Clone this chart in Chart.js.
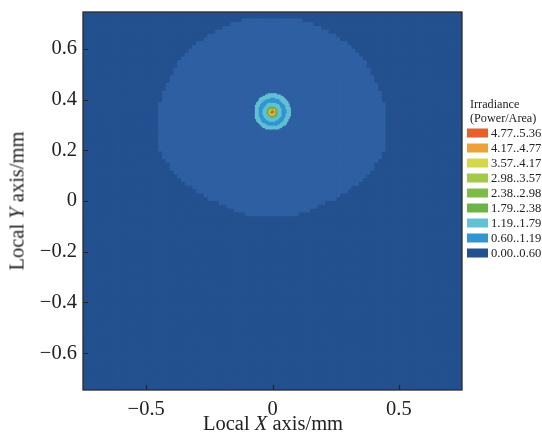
<!DOCTYPE html>
<html>
<head>
<meta charset="utf-8">
<script src="https://cdn.jsdelivr.net/npm/chart.js@4/dist/chart.umd.min.js"></script>
<style>
  html, body { margin: 0; padding: 0; background: #fff; }
  #wrap { position: relative; width: 542px; height: 441px; font-family: "Liberation Serif", "DejaVu Serif", serif; color: #222; }
  #chart { position: absolute; left: 0; top: 0; }
  .ttl { position: absolute; font-size: 20.5px; white-space: nowrap; }
  #ytitle { left: 17px; top: 201px; transform: translate(-50%, -50%) rotate(-90deg); }
  #xtitle { left: 273px; top: 423px; transform: translate(-50%, -50%); }
  .leg { position: absolute; white-space: nowrap; }
  .leg-title { left: 470px; font-size: 12.2px; transform: translateY(-50%); }
  .leg-item { left: 467px; font-size: 12.6px; transform: translateY(-50%); display: flex; align-items: center; }
  .sw { width: 21px; height: 9px; margin-right: 3px; }
</style>
</head>
<body>
<div id="wrap">
  <canvas id="chart" width="542" height="441"></canvas>
  <div class="ttl" id="ytitle">Local <i>Y</i> axis/mm</div>
  <div class="ttl" id="xtitle">Local <i>X</i> axis/mm</div>
  <div id="legend"></div>
</div>
<script>
// ===== DATA =====
const xTicks = [-0.5, 0, 0.5];
const yTicks = [-0.6, -0.4, -0.2, 0, 0.2, 0.4, 0.6];
const xRange = [-0.75, 0.75];
const yRange = [-0.745, 0.745];

// legend bands, top to bottom
const bandLabels = ['4.77..5.36', '4.17..4.77', '3.57..4.17', '2.98..3.57', '2.38..2.98',
                    '1.79..2.38', '1.19..1.79', '0.60..1.19', '0.00..0.60'];
const bandLower = [4.77, 4.17, 3.57, 2.98, 2.38, 1.79, 1.19, 0.60, 0.00];
const bandColors = ['#e4602f', '#eca238', '#d3d84a', '#a2c94c', '#7fbb47',
                    '#6cb448', '#62c1d2', '#3295d2', '#23508f'];
const haloColor = '#2f5fa3';

// background level and the wide halo (lighter part of the lowest band)
const backgroundValue = 0.10;
const haloValue = 0.40;
// halo outline: row y (mm) and half width (mm), top to bottom
const haloRowY =     [0.722, 0.705, 0.681, 0.630, 0.563, 0.496, 0.433, 0.366, 0.228, 0.189, 0.122, 0.071, 0.016, -0.024, -0.055, -0.063];
const haloHalfWidth = [0.090, 0.150, 0.210, 0.290, 0.361, 0.400, 0.433, 0.452, 0.452, 0.437, 0.397, 0.341, 0.262, 0.171, 0.091, 0.060];

// hot spot: centre and radial bands (outer radius mm -> value)
const spotCenter = [0.0, 0.352];
const spotRadius = [0.071, 0.055, 0.038, 0.022, 0.013, 0.010, 0.007];
const spotValue  = [1.30, 0.90, 1.50, 2.10, 3.80, 4.40, 5.00];

const coarseCell = 0.015;
const fineCell = 0.005;

// ===== helpers =====
function haloWidthAt(y) {
  if (y > haloRowY[0] || y < haloRowY[haloRowY.length - 1]) return -1;
  for (let i = 0; i < haloRowY.length - 1; i++) {
    const a = haloRowY[i], b = haloRowY[i + 1];
    if (y <= a && y >= b) {
      const t = (a - y) / (a - b);
      return haloHalfWidth[i] + t * (haloHalfWidth[i + 1] - haloHalfWidth[i]);
    }
  }
  return -1;
}

function spotAt(x, y) {
  const r = Math.hypot(x - spotCenter[0], y - spotCenter[1]);
  let v = null;
  for (let i = 0; i < spotRadius.length; i++) {
    if (r <= spotRadius[i]) v = spotValue[i];
  }
  return v;
}

function colorFor(v) {
  if (v < bandLower[7]) return v >= 0.3 ? haloColor : bandColors[8];
  for (let i = 0; i < bandLower.length; i++) {
    if (v >= bandLower[i]) return bandColors[i];
  }
  return bandColors[8];
}

// coarse grid over the whole plot
const coarseCells = [];
for (let y = yRange[0] + coarseCell / 2 - 0.0025; y < yRange[1] + coarseCell; y += coarseCell) {
  for (let x = xRange[0] + coarseCell / 2; x < xRange[1]; x += coarseCell) {
    const hw = haloWidthAt(y);
    const v = (hw >= 0 && Math.abs(x) <= hw) ? haloValue : backgroundValue;
    coarseCells.push({ x, y, v });
  }
}

// fine grid around the hot spot
const spotCells = [];
const reach = spotRadius[0] + fineCell;
for (let y = spotCenter[1] - reach; y <= spotCenter[1] + reach; y += fineCell) {
  for (let x = spotCenter[0] - reach; x <= spotCenter[0] + reach; x += fineCell) {
    const v = spotAt(x, y);
    if (v !== null) spotCells.push({ x, y, v });
  }
}

function cellRadius(size, overlap) {
  return (ctx) => {
    const sx = ctx.chart.scales.x;
    const w = Math.abs(sx.getPixelForValue(size) - sx.getPixelForValue(0));
    return (w + overlap) / Math.SQRT2;
  };
}

// ===== legend (HTML) =====
const legend = document.getElementById('legend');
['Irradiance', '(Power/Area)'].forEach((t, i) => {
  const d = document.createElement('div');
  d.className = 'leg leg-title';
  d.style.top = (104 + i * 13.5) + 'px';
  d.textContent = t;
  legend.appendChild(d);
});
bandLabels.forEach((lab, i) => {
  const d = document.createElement('div');
  d.className = 'leg leg-item';
  d.style.top = (133 + i * 15) + 'px';
  const sw = document.createElement('span');
  sw.className = 'sw';
  sw.style.background = bandColors[i];
  d.appendChild(sw);
  d.appendChild(document.createTextNode(lab));
  legend.appendChild(d);
});

// ===== frame + inward ticks =====
const framePlugin = {
  id: 'frame',
  afterDatasetsDraw(chart) {
    const { ctx, chartArea: a, scales } = chart;
    ctx.save();
    ctx.strokeStyle = '#222';
    ctx.lineWidth = 1.2;
    ctx.beginPath();
    for (const v of xTicks) {
      const px = Math.round(scales.x.getPixelForValue(v)) + 0.5;
      ctx.moveTo(px, a.bottom);
      ctx.lineTo(px, a.bottom - 5);
    }
    for (const v of yTicks) {
      const py = Math.round(scales.y.getPixelForValue(v)) + 0.5;
      ctx.moveTo(a.left, py);
      ctx.lineTo(a.left + 5, py);
    }
    ctx.stroke();
    ctx.strokeStyle = '#2a2a2a';
    ctx.lineWidth = 1.3;
    ctx.strokeRect(a.left, a.top, a.right - a.left, a.bottom - a.top);
    ctx.restore();
  }
};

const fmt = (v) => {
  const s = Math.abs(v) < 1e-9 ? '0' : String(Math.round(v * 10) / 10);
  return s.replace('-', '\u2212');
};

const ctx = document.getElementById('chart').getContext('2d');
new Chart(ctx, {
  type: 'scatter',
  data: {
    datasets: [
      {
        data: spotCells,
        pointStyle: 'rect',
        pointRadius: cellRadius(fineCell, 0.6),
        pointBorderWidth: 0,
        pointBackgroundColor: (c) => colorFor(c.raw.v)
      },
      {
        data: coarseCells,
        pointStyle: 'rect',
        pointRadius: cellRadius(coarseCell, 1.2),
        pointBorderWidth: 0,
        pointBackgroundColor: (c) => colorFor(c.raw.v)
      }
    ]
  },
  options: {
    responsive: false,
    animation: false,
    events: [],
    parsing: false,
    layout: { padding: { left: 0, top: 12, right: 80, bottom: 0 } },
    plugins: { legend: { display: false }, tooltip: { enabled: false } },
    scales: {
      x: {
        type: 'linear',
        min: xRange[0],
        max: xRange[1],
        afterBuildTicks: (s) => { s.ticks = xTicks.map(v => ({ value: v })); },
        afterFit: (s) => { s.height = 51; s.paddingLeft = 0; s.paddingRight = 0; },
        grid: { display: false, drawTicks: false },
        border: { display: false },
        ticks: {
          color: '#222',
          padding: 7,
          maxRotation: 0,
          font: { family: '"Liberation Serif", serif', size: 20.5 },
          callback: fmt
        }
      },
      y: {
        type: 'linear',
        min: yRange[0],
        max: yRange[1],
        afterBuildTicks: (s) => { s.ticks = yTicks.map(v => ({ value: v })); },
        afterFit: (s) => { s.width = 83; s.paddingTop = 0; s.paddingBottom = 0; },
        grid: { display: false, drawTicks: false },
        border: { display: false },
        ticks: {
          color: '#222',
          padding: 6,
          font: { family: '"Liberation Serif", serif', size: 20.5 },
          callback: fmt
        }
      }
    }
  },
  plugins: [framePlugin]
});
</script>
</body>
</html>
